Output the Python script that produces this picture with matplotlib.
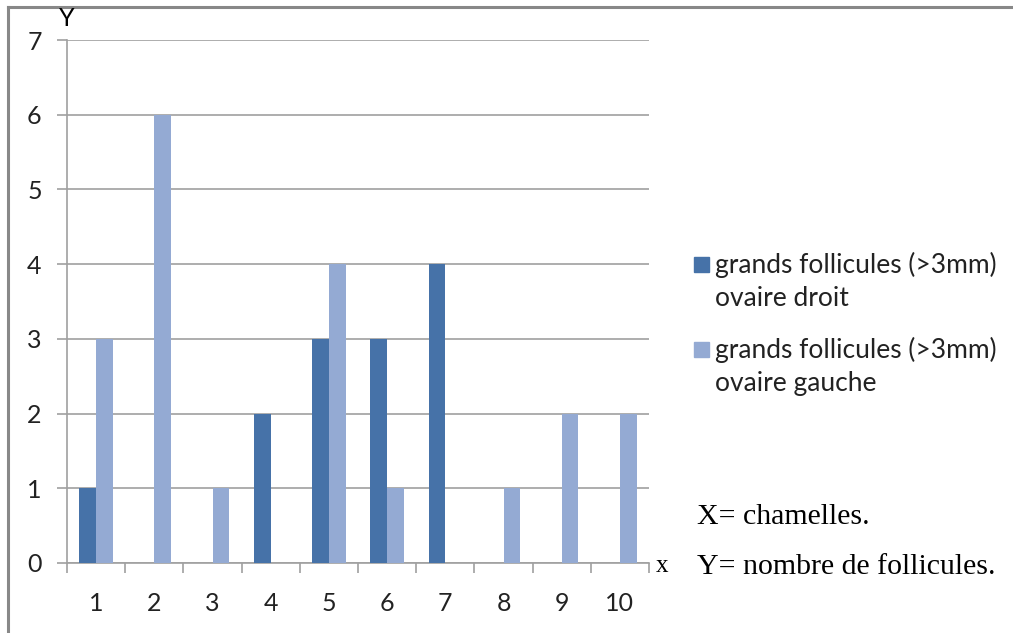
import numpy as np
import matplotlib
matplotlib.use("Agg")
import matplotlib.pyplot as plt
from matplotlib.patches import Rectangle
from matplotlib.lines import Line2D

# data
chamelles = [1, 2, 3, 4, 5, 6, 7, 8, 9, 10]
ovaire_droit = [1, 0, 0, 2, 3, 3, 4, 0, 0, 0]
ovaire_gauche = [3, 6, 1, 0, 4, 1, 0, 1, 2, 2]
series_names = ["grands follicules (>3mm)\novaire droit",
                "grands follicules (>3mm)\novaire gauche"]
colors = ["#4672A8", "#94AAD3"]

W, H = 1013, 633
fig = plt.figure(figsize=(W / 100, H / 100), dpi=100)
ax = fig.add_axes([67 / W, 1 - 563 / H, (649 - 67) / W, (563 - 40) / H])

x = np.arange(len(chamelles)) + 1
bw = 1 / 3.5
ax.bar(x - bw / 2, ovaire_droit, bw, color=colors[0], zorder=3)
ax.bar(x + bw / 2, ovaire_gauche, bw, color=colors[1], zorder=3)

grid_c = "#A0A0A0"
ax.set_xlim(0.5, len(chamelles) + 0.5)
ax.set_ylim(0, 7)
ax.set_yticks(range(0, 8))
ax.yaxis.grid(True, color=grid_c, linewidth=1.2, zorder=0)
for s in ["top", "right"]:
    ax.spines[s].set_visible(False)
for s in ["left", "bottom"]:
    ax.spines[s].set_color(grid_c)
    ax.spines[s].set_linewidth(1.2)

tick_font = dict(family="Lato", size=18)
ax.set_xticks(x)
ax.set_xticklabels([str(c) for c in chamelles], fontdict=tick_font, color="#222222")
ax.set_xticks(np.arange(0.5, len(chamelles) + 1, 1), minor=True)
ax.tick_params(axis="x", which="major", length=0, pad=21)
ax.tick_params(axis="x", which="minor", length=7, width=1.2, color=grid_c)
ax.set_yticklabels([str(v) for v in range(8)], fontdict=tick_font, color="#222222")
ax.tick_params(axis="y", length=7.2, width=1.2, color=grid_c, pad=11)

# axis letters
fig.text(67 / W, 1 - 18 / H, "Y", ha="center", va="center", family="Lato", size=18)
fig.text(662 / W, 1 - 566 / H, "x", ha="center", va="center",
         family="Liberation Serif", size=18)

# legend drawn by hand to match the layout
leg_y = [265, 350]
for name, c, yy in zip(series_names, colors, leg_y):
    fig.add_artist(Rectangle((694 / W, 1 - (yy + 7) / H), 15 / W, 15 / H,
                             transform=fig.transFigure, color=c))
    first, second = name.split("\n")
    fig.text(715 / W, 1 - yy / H, first, ha="left", va="center",
             family="Lato", size=19, color="#222222")
    fig.text(715 / W, 1 - (yy + 33) / H, second, ha="left", va="center",
             family="Lato", size=19, color="#222222")

serif = dict(family="Liberation Serif", size=21.5)
fig.text(697 / W, 1 - 517 / H, "X= chamelles.", ha="left", va="center", **serif)
fig.text(697 / W, 1 - 567 / H, "Y= nombre de follicules.", ha="left", va="center", **serif)

# frame around the picture (top and left edges visible)
fig.add_artist(Line2D([8 / W, 1], [1 - 7 / H, 1 - 7 / H], color="#888888",
                      linewidth=2.2, transform=fig.transFigure))
fig.add_artist(Line2D([8 / W, 8 / W], [0, 1 - 7 / H], color="#888888",
                      linewidth=2.2, transform=fig.transFigure))

fig.savefig("out.png", dpi=100)
